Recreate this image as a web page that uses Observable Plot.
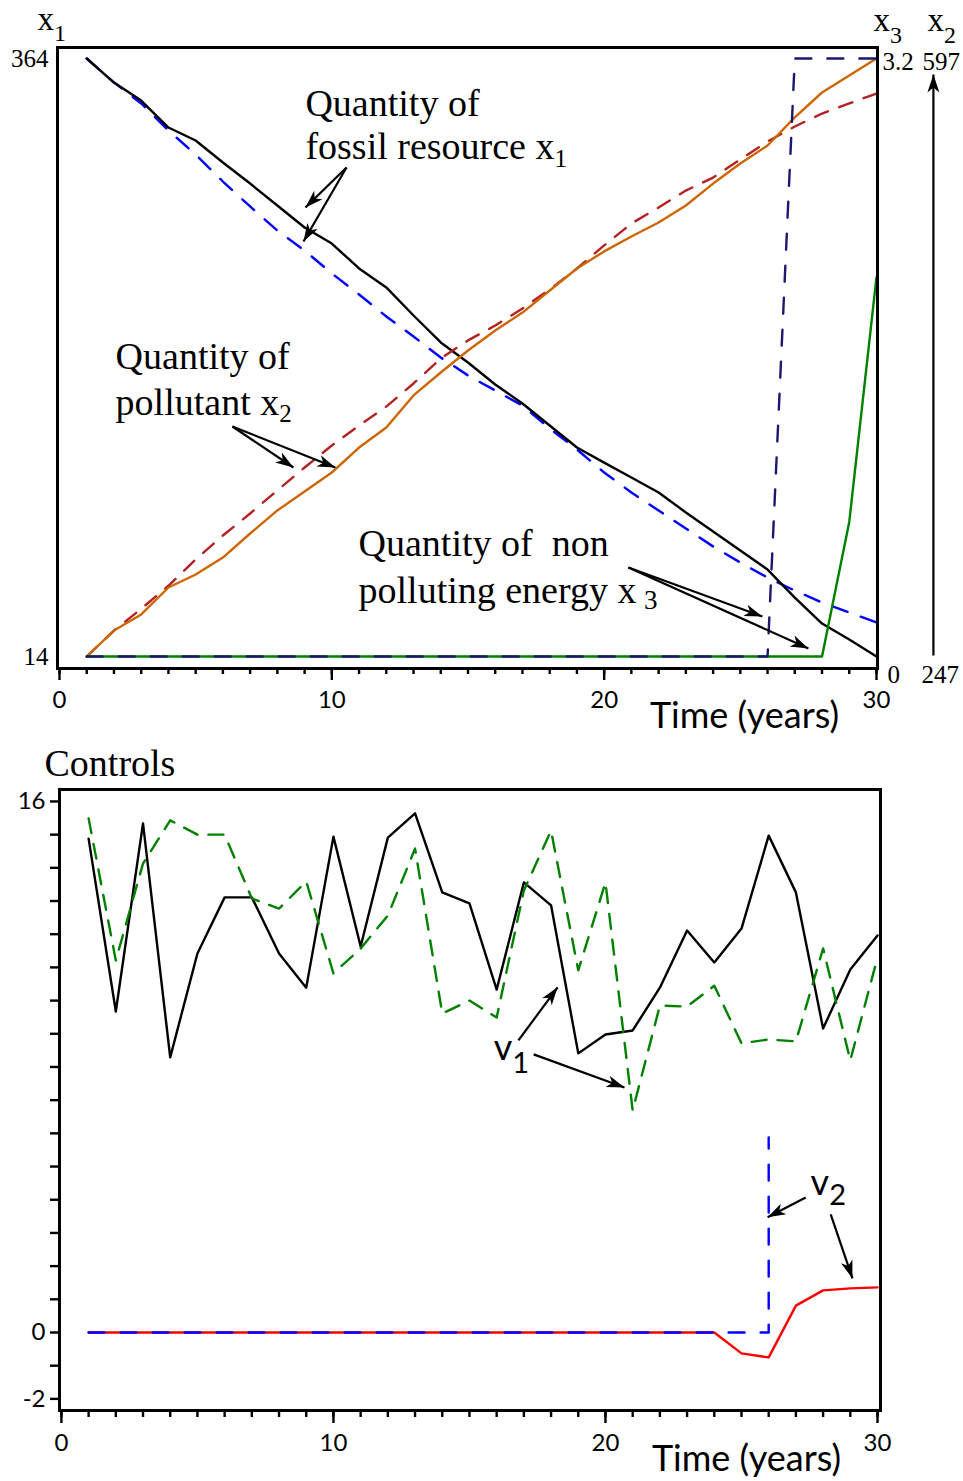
<!DOCTYPE html>
<html><head><meta charset="utf-8">
<script src="https://cdn.jsdelivr.net/npm/d3@7"></script>
<script src="https://cdn.jsdelivr.net/npm/@observablehq/plot@0.6"></script>
<style>
html,body{margin:0;padding:0;background:#fff;}
#chart{width:963px;height:1481px;position:relative;overflow:hidden;background:#fff}
#chart svg{display:block}
</style></head><body><div id="chart"></div>
<script>
// ---------- data ----------
const years = [1,2,3,4,5,6,7,8,9,10,11,12,13,14,15,16,17,18,19,20,21,22,23,24,25,26,27,28,29,30];
// fossil resource x1 (left axis 14..364)
const x1Solid  = [364,349.9,339.4,323.6,316.0,303.1,290.8,278.0,265.1,255.7,241.1,230.0,213.6,197.8,186.1,173.2,162.1,149.2,136.3,127.5,118.8,110.0,98.3,87.2,76.0,64.9,48.5,33.3,24.0,14];
const x1Dashed = [364,350.0,337.7,321.9,307.8,292.0,277.4,263.3,251.6,238.2,225.9,213.0,201.3,189.0,178.5,169.7,160.9,147.4,135.2,121.7,110.0,99.4,88.9,78.4,69.0,60.2,52.6,45.6,39.8,33.9];
// pollutant x2 (right axis 247..597)
const x2Solid  = [247,262.2,271.6,287.4,295.0,304.9,319.0,332.5,343.6,354.7,369.3,381.0,399.8,413.2,426.1,437.8,448.3,461.2,474.1,484.1,492.8,501.0,511.0,523.8,535.5,546.1,562.5,577.1,587.0,597];
const x2Dashed = [247,262.2,274.9,288.4,303.8,317.8,330.7,344.2,357.6,370.5,382.2,393.3,406.8,421.4,432.0,440.7,450.7,461.8,474.1,487.6,500.4,509.8,519.7,527.3,537.9,548.4,557.2,564.8,570.7,576.5];
// non polluting energy x3 (right axis 0..3.2)
const x3Solid  = [0,0,0,0,0,0,0,0,0,0,0,0,0,0,0,0,0,0,0,0,0,0,0,0,0,0,0,0,0.72,2.03];
const x3Dashed = [0,0,0,0,0,0,0,0,0,0,0,0,0,0,0,0,0,0,0,0,0,0,0,0,0,0,3.2,3.2,3.2,3.2];
// controls
const v1Solid  = [14.88,9.67,15.34,8.29,11.42,13.11,13.11,11.42,10.39,14.94,11.63,14.91,15.64,13.26,12.93,10.33,13.56,12.87,8.41,8.98,9.10,10.39,12.11,11.15,12.17,14.97,13.26,9.16,10.94,11.96];
const v1Dashed = [15.49,11.21,14.13,15.43,15.00,15.00,13.08,12.77,13.59,10.82,11.57,12.56,14.58,9.61,10.00,9.49,13.32,15.12,10.91,13.56,6.69,9.85,9.82,10.45,8.71,8.83,8.77,11.57,8.20,11.30];
const v2Solid  = [0,0,0,0,0,0,0,0,0,0,0,0,0,0,0,0,0,0,0,0,0,0,0,0,-0.63,-0.75,0.81,1.27,1.33,1.36];
const v2DashedYears = [1,2,3,4,5,6,7,8,9,10,11,12,13,14,15,16,17,18,19,20,21,22,23,24,25,26,26];
const v2Dashed = [0,0,0,0,0,0,0,0,0,0,0,0,0,0,0,0,0,0,0,0,0,0,0,0,0,0,5.88];
// axis ticks / labels
const xMajorTicks = [0,10,20,30];
const xMinorTicks = [0,1,2,3,4,5,6,7,8,9,10,11,12,13,14,15,16,17,18,19,20,21,22,23,24,25,26,27,28,29,30];
const x1Range = [14,364];
const x2Range = [247,597];
const x3Range = [0,3.2];
const ctrlTicks = [-2,-1,0,1,2,3,4,5,6,7,8,9,10,11,12,13,14,15,16];
const ctrlLabels = [-2,0,16];

// ---------- helpers ----------
const SERIF = "'Liberation Serif','Times New Roman',serif";
const SANS = "Lato,'Open Sans',sans-serif";
const LW = 2.4;
const toX2 = v => x1Range[0] + (v - x2Range[0]) * (x1Range[1]-x1Range[0])/(x2Range[1]-x2Range[0]);
const toX3 = v => x1Range[0] + (v - x3Range[0]) * (x1Range[1]-x1Range[0])/(x3Range[1]-x3Range[0]);

function arrowHead(color, context) {
  const m = d3.create("svg:marker")
    .attr("viewBox", "-19 -7 20 14")
    .attr("markerWidth", 20).attr("markerHeight", 14)
    .attr("markerUnits", "userSpaceOnUse")
    .attr("orient", "auto")
    .attr("refX", 0).attr("refY", 0)
    .attr("fill", color).attr("stroke", "none");
  m.append("path").attr("d", "M0,0L-18,-6L-13,0L-18,6Z");
  return m.node();
}
const label = (str, opts) => Plot.text([str], {text: d => d, lineAnchor: "bottom", ...opts});

function subscriptify(svg) {
  const NS = "http://www.w3.org/2000/svg";
  svg.querySelectorAll("text, tspan").forEach(el => {
    if (el.querySelector("tspan")) return;
    const s = el.textContent;
    if (!s.includes("_{")) return;
    const re = /_\{([^|}]*)\|(-?\d+)\|(\d+)\}/g;
    el.textContent = "";
    let last = 0, m, shifted = 0;
    const add = (str, attrs) => {
      const t = document.createElementNS(NS, "tspan");
      t.textContent = str;
      for (const k in attrs) t.setAttribute(k, attrs[k]);
      el.appendChild(t);
    };
    while ((m = re.exec(s))) {
      if (m.index > last) { add(s.slice(last, m.index), shifted ? {dy: -shifted} : {}); shifted = 0; }
      add(m[1], {dy: +m[2], "font-size": m[3]});
      shifted = +m[2];
      last = re.lastIndex;
    }
    if (last < s.length) add(s.slice(last), shifted ? {dy: -shifted} : {});
  });
}

// ---------- top panel ----------
const topData = years.map((t, i) => ({
  t, x1a: x1Solid[i], x1b: x1Dashed[i],
  x2a: toX2(x2Solid[i]), x2b: toX2(x2Dashed[i]),
  x3a: toX3(x3Solid[i]), x3b: toX3(x3Dashed[i])
}));
const topNotes = [
  {x: 9.03, y: 330.6, s: "Quantity of"},
  {x: 9.03, y: 304.9, s: "fossil resource x_{1|8|25}"},
  {x: 2.06, y: 182.0, s: "Quantity of"},
  {x: 2.06, y: 155.1, s: "pollutant x_{2|7|25}"},
  {x: 10.98, y: 73.1, s: "Quantity of \u00a0non"},
  {x: 10.98, y: 45.6, s: "polluting energy x\u2009_{3|6|27}"}
];
const topArrows = [
  {x1: 10.54, y1: 300.2, x2: 9.03, y2: 276.8},
  {x1: 10.54, y1: 300.2, x2: 8.96, y2: 256.9},
  {x1: 6.35, y1: 148.6, x2: 8.59, y2: 124.6},
  {x1: 6.35, y1: 148.6, x2: 10.13, y2: 124.6},
  {x1: 20.89, y1: 66.1, x2: 25.81, y2: 37.4},
  {x1: 20.89, y1: 66.1, x2: 27.50, y2: 18.7},
  {x1: 32.09, y1: 14.6, x2: 32.09, y2: 354.6}
];

const topPlot = Plot.plot({
  width: 963, height: 740,
  marginLeft: 57, marginRight: 86, marginTop: 47, marginBottom: 72,
  x: {domain: [-0.073, 30.037]},
  y: {domain: [6.98, 370.44]},
  style: {fontFamily: SANS, fontSize: "24px", color: "#000", background: "#fff", overflow: "visible"},
  marks: [
    Plot.line(topData, {x: "t", y: "x1b", stroke: "#0000ff", strokeWidth: LW, strokeDasharray: "16,14"}),
    Plot.line(topData, {x: "t", y: "x1a", stroke: "#000", strokeWidth: LW}),
    Plot.line(topData, {x: "t", y: "x2b", stroke: "#b22222", strokeWidth: LW, strokeDasharray: "14,12"}),
    Plot.line(topData, {x: "t", y: "x2a", stroke: "#cc6600", strokeWidth: LW}),
    Plot.line(topData, {x: "t", y: "x3a", stroke: "#008000", strokeWidth: LW}),
    Plot.line(topData, {x: "t", y: "x3b", stroke: "#191970", strokeWidth: LW, strokeDasharray: "16,16"}),
    Plot.frame({stroke: "#000", strokeWidth: 3}),
    Plot.axisX({ticks: xMajorTicks, tickSize: 12, tickPadding: 10, strokeWidth: 2.4, label: null, tickFormat: d => String(d)}),
    Plot.axisX({ticks: xMinorTicks, tickSize: 6, strokeWidth: 2.4, label: null, tickFormat: () => ""}),
    Plot.axisY({ticks: x1Range, tickSize: 0, tickPadding: 9, label: null, fontFamily: SERIF, fontSize: 25, tickFormat: d => String(d)}),
    label("x_{1|11|24}", {frameAnchor: "top-left", dx: -20, dy: -18, textAnchor: "start", fontFamily: SERIF, fontSize: 33}),
    label("x_{3|12|24}", {frameAnchor: "top-right", dx: -4, dy: -17, textAnchor: "start", fontFamily: SERIF, fontSize: 33}),
    label("x_{2|12|24}", {frameAnchor: "top-right", dx: 50, dy: -17, textAnchor: "start", fontFamily: SERIF, fontSize: 33}),
    label(String(x3Range[1]), {frameAnchor: "top-right", dx: 5, dy: 22, textAnchor: "start", fontFamily: SERIF, fontSize: 25}),
    label(String(x2Range[1]), {frameAnchor: "top-right", dx: 45, dy: 22, textAnchor: "start", fontFamily: SERIF, fontSize: 25}),
    label(String(x3Range[0]), {frameAnchor: "bottom-right", dx: 10, dy: 14, textAnchor: "start", fontFamily: SERIF, fontSize: 25}),
    label(String(x2Range[0]), {frameAnchor: "bottom-right", dx: 44, dy: 14, textAnchor: "start", fontFamily: SERIF, fontSize: 25}),
    label("Time (years)", {frameAnchor: "bottom-right", dx: -133, dy: 59, textAnchor: "middle", fontFamily: SANS, fontSize: 36}),
    Plot.text(topNotes, {x: "x", y: "y", text: "s", textAnchor: "start", lineAnchor: "bottom", fontFamily: SERIF, fontSize: 38}),
    Plot.link(topArrows, {x1: "x1", y1: "y1", x2: "x2", y2: "y2", stroke: "#000", strokeWidth: 2.2, markerEnd: arrowHead})
  ]
});
subscriptify(topPlot);

// ---------- bottom panel ----------
const botData = years.map((t, i) => ({t, v1a: v1Solid[i], v1b: v1Dashed[i], v2a: v2Solid[i]}));
const v2DashData = v2DashedYears.map((t, i) => ({t, v: v2Dashed[i]}));
const botNotes = [
  {x: 15.89, y: 8.20, s: "v_{1|13|29}"},
  {x: 27.54, y: 4.13, s: "v_{2|10|29}"}
];
const botArrows = [
  {x1: 16.80, y1: 8.80, x2: 18.24, y2: 10.40},
  {x1: 17.36, y1: 8.38, x2: 20.70, y2: 7.38},
  {x1: 27.36, y1: 4.07, x2: 25.96, y2: 3.47},
  {x1: 28.28, y1: 3.56, x2: 29.08, y2: 1.63}
];

const botPlot = Plot.plot({
  width: 963, height: 741,
  marginLeft: 59, marginRight: 83, marginTop: 49, marginBottom: 71,
  x: {domain: [-0.07, 30.11]},
  y: {domain: [-2.35, 16.36]},
  style: {fontFamily: SANS, fontSize: "24px", color: "#000", background: "#fff", overflow: "visible"},
  marks: [
    Plot.line(botData, {x: "t", y: "v1a", stroke: "#000", strokeWidth: LW}),
    Plot.line(botData, {x: "t", y: "v1b", stroke: "#008000", strokeWidth: LW, strokeDasharray: "15,11"}),
    Plot.line(botData, {x: "t", y: "v2a", stroke: "#ff0000", strokeWidth: LW}),
    Plot.line(v2DashData, {x: "t", y: "v", stroke: "#0000ff", strokeWidth: LW, strokeDasharray: "16,16"}),
    Plot.frame({stroke: "#000", strokeWidth: 3}),
    Plot.axisY({ticks: ctrlTicks, tickSize: 9, tickPadding: 5, strokeWidth: 2.4, label: null,
      tickFormat: d => ctrlLabels.includes(d) ? String(d) : ""}),
    Plot.axisX({ticks: xMajorTicks, tickSize: 13, tickPadding: 10, strokeWidth: 2.4, label: null, tickFormat: d => String(d)}),
    Plot.axisX({ticks: xMinorTicks, tickSize: 7, strokeWidth: 2.4, label: null, tickFormat: () => ""}),
    label("Controls", {frameAnchor: "top-left", dx: -15, dy: -14, textAnchor: "start", fontFamily: SERIF, fontSize: 38}),
    label("Time (years)", {frameAnchor: "bottom-right", dx: -134, dy: 60, textAnchor: "middle", fontFamily: SANS, fontSize: 36}),
    Plot.text(botNotes, {x: "x", y: "y", text: "s", textAnchor: "start", lineAnchor: "bottom", fontFamily: SANS, fontSize: 36}),
    Plot.link(botArrows, {x1: "x1", y1: "y1", x2: "x2", y2: "y2", stroke: "#000", strokeWidth: 2.2, markerEnd: arrowHead})
  ]
});
subscriptify(botPlot);

const chart = document.getElementById("chart");
chart.appendChild(topPlot);
chart.appendChild(botPlot);
</script>
</body></html>
